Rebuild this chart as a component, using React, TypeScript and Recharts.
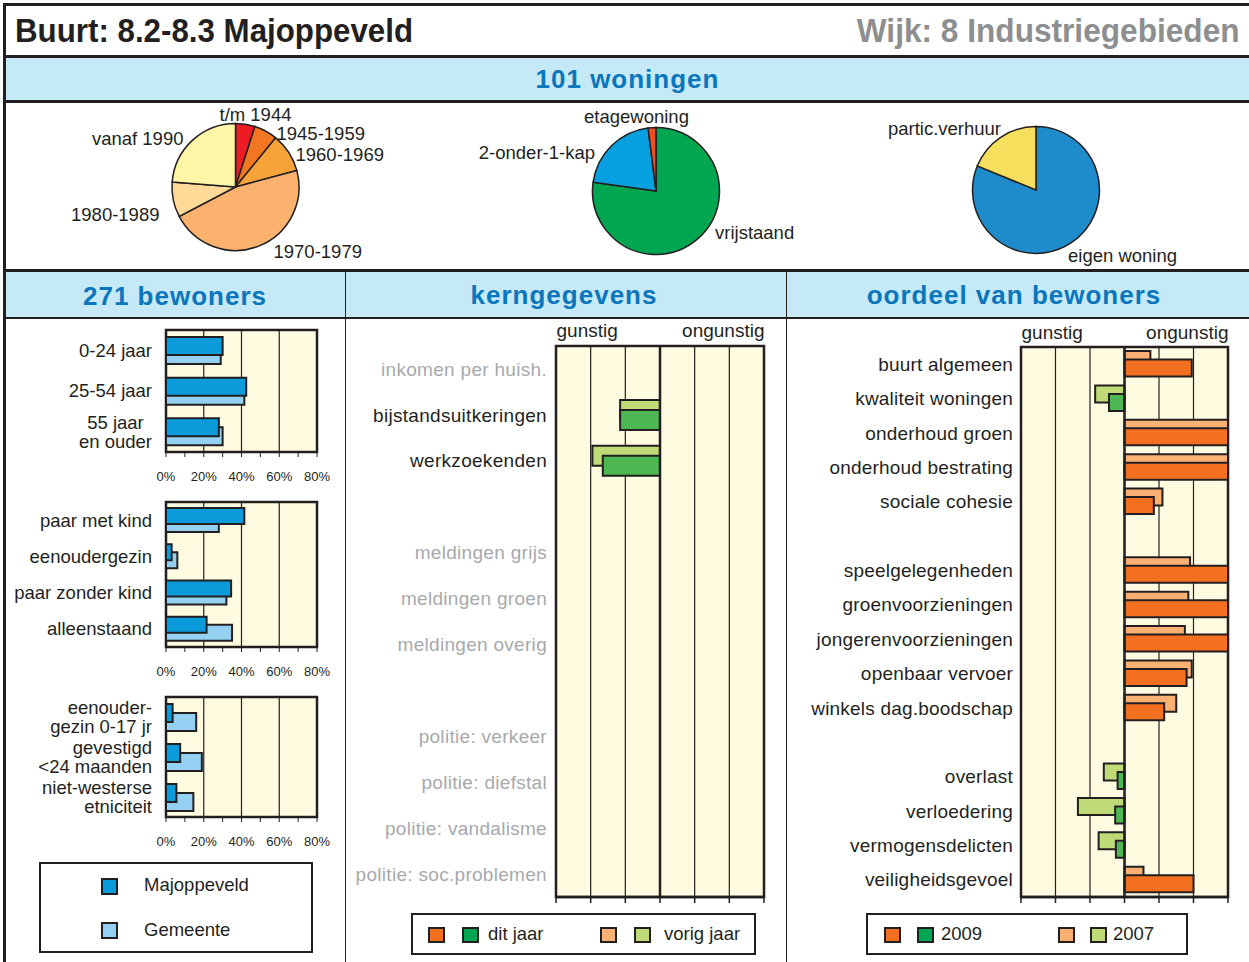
import React from 'react';
import {
  PieChart,
  Pie,
  Cell,
  BarChart,
  Bar,
  XAxis,
  YAxis,
  CartesianGrid,
  ReferenceArea,
  ReferenceLine,
} from 'recharts';

const FONT = '"Liberation Sans", Arial, Helvetica, sans-serif';
const INK = '#231f20';
const BAND = '#c6e9f8';
const PLOT_BG = '#fffbe0';
const HEAD_BLUE = '#0a76bc';
const MUTED = '#a7a9ac';

const MAJ_BLUE = '#0b9bdb';
const GEM_BLUE = '#93d0f2';
const ORANGE = '#f37021';
const ORANGE_LIGHT = '#fbb173';
const GREEN = '#4db852';
const GREEN_LIGHT = '#bedb78';
const GREEN_LEGEND = '#00a651';

// woningen (pies)
const BOUWJAAR_LABELS = ['t/m 1944', '1945-1959', '1960-1969', '1970-1979', '1980-1989', 'vanaf 1990'];
const BOUWJAAR_VALUES = [5, 6, 10, 47, 9, 24];
const BOUWJAAR_COLORS = ['#ed1c24', '#f37721', '#f8a33a', '#fbb26f', '#fed998', '#fff5a6'];

const TYPE_LABELS = ['vrijstaand', '2-onder-1-kap', 'etagewoning'];
const TYPE_VALUES = [78, 21, 2];
const TYPE_COLORS = ['#00a650', '#069fdf', '#ef4f23'];

const EIGENDOM_LABELS = ['eigen woning', 'partic.verhuur'];
const EIGENDOM_VALUES = [82, 19];
const EIGENDOM_COLORS = ['#1e8ccb', '#f6df5c'];

// bewoners (% of residents)
const AGE_CATS = ['0-24 jaar', '25-54 jaar', '55 jaar\nen ouder'];
const AGE_MAJ = [30, 42.5, 28];
const AGE_GEM = [29, 41.5, 30];

const HH_CATS = ['paar met kind', 'eenoudergezin', 'paar zonder kind', 'alleenstaand'];
const HH_MAJ = [41.5, 3, 34.5, 21.5];
const HH_GEM = [28, 6, 32, 35];

const KENM_CATS = ['eenouder-\ngezin 0-17 jr', 'gevestigd\n<24 maanden', 'niet-westerse\netniciteit'];
const KENM_MAJ = [3.5, 7.5, 5.5];
const KENM_GEM = [16, 19, 14.5];

const PCT_TICKS = [0, 10, 20, 30, 40, 50, 60, 70, 80];
const PCT_GRID = [20, 40, 60];

// kerngegevens (negative = gunstig)
const KERN_CATS = [
  'inkomen per huish.', 'bijstandsuitkeringen', 'werkzoekenden', '_gap1',
  'meldingen grijs', 'meldingen groen', 'meldingen overig', '_gap2',
  'politie: verkeer', 'politie: diefstal', 'politie: vandalisme', 'politie: soc.problemen',
];
const KERN_VORIG = [null, -1.15, -1.95, null, null, null, null, null, null, null, null, null];
const KERN_DIT = [null, -1.15, -1.65, null, null, null, null, null, null, null, null, null];

// oordeel van bewoners
const OORDEEL_CATS = [
  'buurt algemeen', 'kwaliteit woningen', 'onderhoud groen', 'onderhoud bestrating', 'sociale cohesie', '_gap1',
  'speelgelegenheden', 'groenvoorzieningen', 'jongerenvoorzieningen', 'openbaar vervoer', 'winkels dag.boodschap', '_gap2',
  'overlast', 'verloedering', 'vermogensdelicten', 'veiligheidsgevoel',
];
const OORDEEL_2007 = [0.75, -0.85, 3, 3, 1.1, null, 1.9, 1.85, 1.75, 1.95, 1.5, null, -0.6, -1.35, -0.75, 0.55];
const OORDEEL_2009 = [1.95, -0.45, 3, 3, 0.85, null, 3, 3, 3, 1.8, 1.15, null, -0.2, -0.27, -0.25, 2.0];

const SCORE_TICKS = [-3, -2, -1, 0, 1, 2, 3];

// label placement around the pies, relative to the pie centre
const PIE_LABEL_POS: Record<string, [number, number, 'start' | 'middle' | 'end']> = {
  't/m 1944': [20, -73, 'middle'],
  '1945-1959': [41, -54, 'start'],
  '1960-1969': [60, -33, 'start'],
  '1970-1979': [38, 64, 'start'],
  '1980-1989': [-76, 27.5, 'end'],
  'vanaf 1990': [-52, -48.5, 'end'],
  etagewoning: [-19.5, -75, 'middle'],
  '2-onder-1-kap': [-61, -38.5, 'end'],
  vrijstaand: [59, 41.5, 'start'],
  'partic.verhuur': [-35, -62, 'end'],
  'eigen woning': [32, 65, 'start'],
};

const ctx = typeof document !== 'undefined' ? document.createElement('canvas').getContext('2d') : null;
function textWidth(s: string, size: number) {
  if (!ctx) return s.length * size * 0.5;
  ctx.font = `${size}px "Liberation Sans"`;
  return ctx.measureText(s).width;
}

function pieLabel(props: any) {
  const { cx, cy } = props;
  const name = props.name ?? props.payload?.name;
  const pos = PIE_LABEL_POS[name];
  if (!pos) return null;
  const [dx, dy, anchor] = pos;
  return (
    <text x={cx + dx} y={cy + dy + 6.5} textAnchor={anchor} fontSize={18.5} fill={INK} fontFamily={FONT}>
      {name}
    </text>
  );
}

function makeCatTick(size: number, opts: { centered?: boolean; spacing?: number; isMuted?: (i: number) => boolean }) {
  return (props: any) => {
    const { x, y, payload, index } = props;
    const name = String(payload.value);
    if (name.startsWith('_gap')) return <g />;
    const lines = name.split('\n');
    const fill = opts.isMuted && opts.isMuted(index) ? MUTED : INK;
    let anchor: 'end' | 'middle' = 'end';
    let tx = x;
    if (opts.centered && lines.length > 1) {
      const w = Math.max(...lines.map((l) => textWidth(l, size)));
      anchor = 'middle';
      tx = x - w / 2;
    }
    const lh = size * 1.02;
    return (
      <text textAnchor={anchor} fontSize={size} fill={fill} fontFamily={FONT} letterSpacing={opts.spacing ?? 0}>
        {lines.map((l, i) => (
          <tspan key={i} x={tx} y={y + (i - (lines.length - 1) / 2) * lh + size * 0.35}>
            {l}
          </tspan>
        ))}
      </text>
    );
  };
}

function Rule({ l, t, w, h, c = INK }: { l: number; t: number; w: number; h: number; c?: string }) {
  return <div style={{ position: 'absolute', left: l, top: t, width: w, height: h, background: c }} />;
}

function Txt({ x, y, size, children, anchor = 'start', weight = 400, color = INK, spacing = 0 }: any) {
  const top = y - 0.4885 * size;
  const base: React.CSSProperties = {
    position: 'absolute',
    top,
    fontSize: size,
    lineHeight: `${size}px`,
    fontWeight: weight,
    color,
    letterSpacing: spacing,
    whiteSpace: 'nowrap',
    fontFamily: FONT,
  };
  if (anchor === 'middle') return <div style={{ ...base, left: x - 300, width: 600, textAlign: 'center' }}>{children}</div>;
  if (anchor === 'end') return <div style={{ ...base, right: 1249 - x, textAlign: 'right' }}>{children}</div>;
  return <div style={{ ...base, left: x }}>{children}</div>;
}

function Swatch({ x, y, color, size = 16.5 }: { x: number; y: number; color: string; size?: number }) {
  return (
    <div
      style={{
        position: 'absolute',
        left: x,
        top: y,
        width: size,
        height: size,
        background: color,
        border: `2px solid ${INK}`,
        boxSizing: 'border-box',
      }}
    />
  );
}

function Box({ l, t, w, h }: { l: number; t: number; w: number; h: number }) {
  return (
    <div
      style={{ position: 'absolute', left: l, top: t, width: w, height: h, border: `2px solid ${INK}`, boxSizing: 'border-box' }}
    />
  );
}

function GroupChart({ cats, maj, gem, top, plotH, barSize, barGap, centered }: any) {
  const data = cats.map((name: string, i: number) => ({ name, maj: maj[i], gem: gem[i] }));
  const tick = makeCatTick(18.5, { centered });
  return (
    <div style={{ position: 'absolute', left: 0, top }}>
      <BarChart
        width={345}
        height={10 + plotH + 38}
        data={data}
        layout="vertical"
        barGap={barGap}
        margin={{ top: 10, right: 28, bottom: 0, left: 0 }}
      >
        <CartesianGrid horizontal={false} verticalValues={PCT_GRID} stroke={INK} strokeWidth={1.2} fill={PLOT_BG} fillOpacity={1} />
        <XAxis
          type="number"
          domain={[0, 80]}
          ticks={PCT_TICKS}
          interval={0}
          height={38}
          tickFormatter={(v: number) => (v % 20 === 0 ? `${v}%` : '')}
          tickSize={5}
          tickMargin={15}
          tickLine={{ stroke: INK }}
          axisLine={{ stroke: INK, strokeWidth: 2 }}
          tick={{ fontSize: 13, fill: INK, fontFamily: FONT }}
        />
        <YAxis
          type="category"
          dataKey="name"
          width={166}
          interval={0}
          axisLine={false}
          tickLine={false}
          tickSize={0}
          tickMargin={14}
          tick={tick}
        />
        <ReferenceArea x1={0} x2={80} fill="none" stroke={INK} strokeWidth={2.5} />
        <Bar dataKey="gem" barSize={barSize} fill={GEM_BLUE} stroke={INK} strokeWidth={2} isAnimationActive={false} />
        <Bar dataKey="maj" barSize={barSize} fill={MAJ_BLUE} stroke={INK} strokeWidth={2} isAnimationActive={false} />
      </BarChart>
    </div>
  );
}

function ScoreChart({ cats, prev, cur, left, top, width, yAxisW, marginTop, plotH, marginRight, barSize, barGap, tickGap, spacing, muteEmpty }: any) {
  const data = cats.map((name: string, i: number) => ({ name, prev: prev[i], cur: cur[i] }));
  const tick = makeCatTick(19, {
    spacing,
    isMuted: muteEmpty ? (i: number) => prev[i] == null && cur[i] == null : undefined,
  });
  return (
    <div style={{ position: 'absolute', left, top }}>
      <BarChart
        width={width}
        height={marginTop + plotH + 20}
        data={data}
        layout="vertical"
        barGap={barGap}
        margin={{ top: marginTop, right: marginRight, bottom: 0, left: 0 }}
      >
        <CartesianGrid horizontal={false} stroke={INK} strokeWidth={1.2} fill={PLOT_BG} fillOpacity={1} />
        <XAxis
          type="number"
          domain={[-3, 3]}
          ticks={SCORE_TICKS}
          interval={0}
          allowDataOverflow
          height={20}
          tickFormatter={() => ''}
          tickSize={6}
          tickLine={{ stroke: INK, strokeWidth: 1.5 }}
          axisLine={{ stroke: INK, strokeWidth: 2.5 }}
        />
        <YAxis
          type="category"
          dataKey="name"
          width={yAxisW}
          interval={0}
          axisLine={false}
          tickLine={false}
          tickSize={0}
          tickMargin={tickGap}
          tick={tick}
        />
        <ReferenceArea x1={-3} x2={3} fill="none" stroke={INK} strokeWidth={2.5} />
        <ReferenceLine x={0} stroke={INK} strokeWidth={2.5} />
        <Bar dataKey="prev" barSize={barSize} stroke={INK} strokeWidth={2} isAnimationActive={false}>
          {data.map((d: any, i: number) => (
            <Cell key={i} fill={d.prev != null && d.prev < 0 ? GREEN_LIGHT : ORANGE_LIGHT} />
          ))}
        </Bar>
        <Bar dataKey="cur" barSize={barSize} stroke={INK} strokeWidth={2} isAnimationActive={false}>
          {data.map((d: any, i: number) => (
            <Cell key={i} fill={d.cur != null && d.cur < 0 ? GREEN : ORANGE} />
          ))}
        </Bar>
      </BarChart>
    </div>
  );
}

const toPie = (labels: string[], values: number[]) => labels.map((name, i) => ({ name, value: values[i] }));

export default function App() {
  const bouwjaar = toPie(BOUWJAAR_LABELS, BOUWJAAR_VALUES);
  const types = toPie(TYPE_LABELS, TYPE_VALUES);
  const eigendom = toPie(EIGENDOM_LABELS, EIGENDOM_VALUES);

  return (
    <div
      style={{
        position: 'absolute',
        left: 0,
        top: 0,
        width: 1249,
        height: 962,
        background: '#fff',
        overflow: 'hidden',
        fontFamily: FONT,
        color: INK,
      }}
    >
      {/* title row */}
      <div
        style={{
          position: 'absolute',
          left: 15,
          top: 12,
          fontSize: 34,
          lineHeight: '36px',
          fontWeight: 700,
          whiteSpace: 'nowrap',
          transform: 'scaleX(0.92)',
          transformOrigin: 'left',
        }}
      >
        Buurt: 8.2-8.3 Majoppeveld
      </div>
      <div
        style={{
          position: 'absolute',
          right: 9,
          top: 12,
          fontSize: 34,
          lineHeight: '36px',
          fontWeight: 700,
          color: '#8c8e90',
          whiteSpace: 'nowrap',
          transform: 'scaleX(0.93)',
          transformOrigin: 'right',
        }}
      >
        Wijk: 8 Industriegebieden
      </div>

      {/* bands */}
      <div style={{ position: 'absolute', left: 6, top: 57, width: 1243, height: 43, background: BAND }} />
      <div style={{ position: 'absolute', left: 6, top: 271, width: 1243, height: 46, background: BAND }} />
      <Txt x={627.5} y={79} size={26} weight={700} color={HEAD_BLUE} spacing={1} anchor="middle">
        101 woningen
      </Txt>
      <Txt x={175} y={296} size={26} weight={700} color={HEAD_BLUE} spacing={1} anchor="middle">
        271 bewoners
      </Txt>
      <Txt x={564} y={295} size={26} weight={700} color={HEAD_BLUE} spacing={1} anchor="middle">
        kerngegevens
      </Txt>
      <Txt x={1014} y={295} size={26} weight={700} color={HEAD_BLUE} spacing={1} anchor="middle">
        oordeel van bewoners
      </Txt>

      {/* frame */}
      <Rule l={3} t={3} w={1246} h={3} />
      <Rule l={3} t={3} w={3} h={959} />
      <Rule l={3} t={55} w={1246} h={3} />
      <Rule l={3} t={100} w={1246} h={3} />
      <Rule l={3} t={269} w={1246} h={2.5} />
      <Rule l={3} t={316.5} w={1246} h={2.5} />
      <Rule l={344.5} t={269} w={1.5} h={693} />
      <Rule l={785.5} t={269} w={1.5} h={693} />

      {/* pies */}
      <div style={{ position: 'absolute', left: 0, top: 103 }}>
        <PieChart width={1249} height={166} margin={{ top: 0, right: 0, bottom: 0, left: 0 }}>
          <Pie
            data={bouwjaar}
            dataKey="value"
            nameKey="name"
            cx={235.5}
            cy={84}
            outerRadius={63.5}
            startAngle={90}
            endAngle={-270}
            stroke={INK}
            strokeWidth={1.5}
            label={pieLabel}
            labelLine={false}
            isAnimationActive={false}
          >
            {bouwjaar.map((d, i) => (
              <Cell key={d.name} fill={BOUWJAAR_COLORS[i]} />
            ))}
          </Pie>
          <Pie
            data={types}
            dataKey="value"
            nameKey="name"
            cx={656}
            cy={88}
            outerRadius={63.5}
            startAngle={90}
            endAngle={-270}
            stroke={INK}
            strokeWidth={1.5}
            label={pieLabel}
            labelLine={false}
            isAnimationActive={false}
          >
            {types.map((d, i) => (
              <Cell key={d.name} fill={TYPE_COLORS[i]} />
            ))}
          </Pie>
          <Pie
            data={eigendom}
            dataKey="value"
            nameKey="name"
            cx={1036}
            cy={87}
            outerRadius={63.5}
            startAngle={90}
            endAngle={-270}
            stroke={INK}
            strokeWidth={1.5}
            label={pieLabel}
            labelLine={false}
            isAnimationActive={false}
          >
            {eigendom.map((d, i) => (
              <Cell key={d.name} fill={EIGENDOM_COLORS[i]} />
            ))}
          </Pie>
        </PieChart>
      </div>

      {/* bewoners */}
      <GroupChart cats={AGE_CATS} maj={AGE_MAJ} gem={AGE_GEM} top={320} plotH={122} barSize={18} barGap={-27} centered />
      <GroupChart cats={HH_CATS} maj={HH_MAJ} gem={HH_GEM} top={492} plotH={145} barSize={16} barGap={-24} />
      <GroupChart cats={KENM_CATS} maj={KENM_MAJ} gem={KENM_GEM} top={687} plotH={120} barSize={18} barGap={-27} />

      <Box l={39} t={862} w={274} h={91} />
      <Swatch x={101} y={878} color={MAJ_BLUE} />
      <Swatch x={101} y={922} color={GEM_BLUE} />
      <Txt x={144} y={885} size={18.5}>Majoppeveld</Txt>
      <Txt x={144} y={930} size={18.5}>Gemeente</Txt>

      {/* kerngegevens */}
      <Txt x={556.5} y={330.5} size={19}>gunstig</Txt>
      <Txt x={764.5} y={330.5} size={19} anchor="end">ongunstig</Txt>
      <ScoreChart
        cats={KERN_CATS}
        prev={KERN_VORIG}
        cur={KERN_DIT}
        left={345}
        top={330}
        width={440}
        yAxisW={211}
        marginTop={16}
        plotH={551}
        marginRight={21}
        barSize={20}
        barGap={-10}
        tickGap={9}
        spacing={0.3}
        muteEmpty
      />
      <Box l={411} t={913} w={345} h={42} />
      <Swatch x={428} y={926.5} color={ORANGE} />
      <Swatch x={462} y={926.5} color={GREEN_LEGEND} />
      <Swatch x={600} y={926.5} color={ORANGE_LIGHT} />
      <Swatch x={634} y={926.5} color={GREEN_LIGHT} />
      <Txt x={488} y={934} size={18.5}>dit jaar</Txt>
      <Txt x={664} y={934} size={18.5}>vorig jaar</Txt>

      {/* oordeel van bewoners */}
      <Txt x={1021.5} y={332} size={19}>gunstig</Txt>
      <Txt x={1228.5} y={332} size={19} anchor="end">ongunstig</Txt>
      <ScoreChart
        cats={OORDEEL_CATS}
        prev={OORDEEL_2007}
        cur={OORDEEL_2009}
        left={786}
        top={330}
        width={463}
        yAxisW={235}
        marginTop={17}
        plotH={550}
        marginRight={21}
        barSize={17}
        barGap={-8.5}
        tickGap={8}
        spacing={0.2}
      />
      <Box l={866} t={913} w={322} h={42} />
      <Swatch x={884} y={926.5} color={ORANGE} />
      <Swatch x={917} y={926.5} color={GREEN_LEGEND} />
      <Swatch x={1058} y={926.5} color={ORANGE_LIGHT} />
      <Swatch x={1090} y={926.5} color={GREEN_LIGHT} />
      <Txt x={941} y={934} size={18.5}>2009</Txt>
      <Txt x={1113} y={934} size={18.5}>2007</Txt>
    </div>
  );
}
